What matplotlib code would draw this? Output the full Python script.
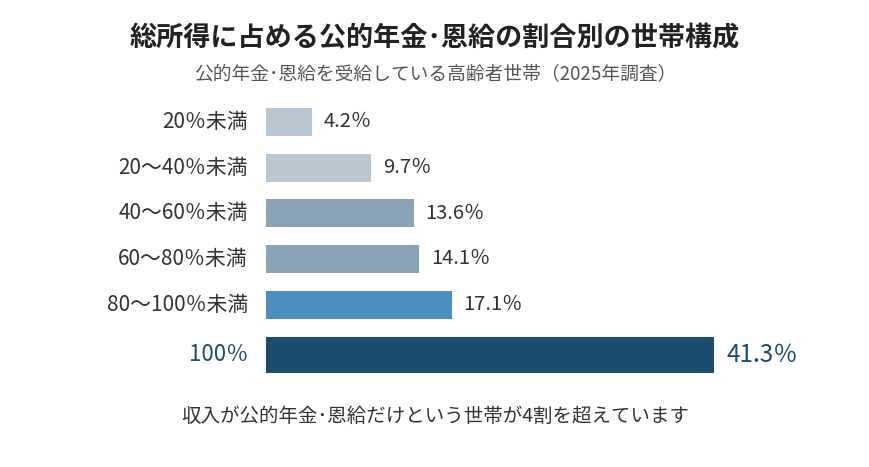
import numpy as np
import matplotlib
matplotlib.use('Agg')
import matplotlib.pyplot as plt

plt.rcParams['font.family'] = ['Noto Sans CJK JP', 'DejaVu Sans']

categories = ['20％未満', '20～40％未満', '40～60％未満', '60～80％未満', '80～100％未満', '100％']
values = [4.2, 9.7, 13.6, 14.1, 17.1, 41.3]
colors = ['#b7c6d1', '#b7c6d1', '#8aa3b6', '#8aa3b6', '#4b8fc1', '#1b4e6e']

title = '総所得に占める公的年金･恩給の割合別の世帯構成'
subtitle = '公的年金･恩給を受給している高齢者世帯（2025年調査）'
footer = '収入が公的年金･恩給だけという世帯が4割を超えています'

fig = plt.figure(figsize=(8.7, 4.67), dpi=100)
ax = fig.add_axes([266 / 870, 1 - 380 / 467, 597 / 870, 280 / 467])

n = len(values)
pos = np.arange(n, dtype=float)
pos[-1] += 0.1  # the highlighted row sits a bit lower
heights = [0.61] * (n - 1) + [0.79]

ax.barh(pos, values, height=heights, color=colors)
ax.set_xlim(0, 55)
ax.set_ylim(5.65, -0.48)
ax.axis('off')

for i, (cat, v) in enumerate(zip(categories, values)):
    last = i == n - 1
    tc = '#1b4e6e' if last else '#333333'
    ax.annotate(cat, (0, pos[i]), xytext=(-18, 0), textcoords='offset pixels',
                ha='right', va='center', fontsize=16 if last else 15, color=tc)
    ax.annotate(f'{v}％', (v, pos[i]), xytext=(12, 0), textcoords='offset pixels',
                ha='left', va='center', fontsize=17.5 if last else 14.5, color=tc)

fig.text(0.5, 1 - 38 / 467, title, ha='center', va='center', fontsize=19.5,
         fontweight='bold', color='#222222')
fig.text(0.5, 1 - 74 / 467, subtitle, ha='center', va='center', fontsize=13.5,
         color='#555555')
fig.text(0.5, 1 - 416 / 467, footer, ha='center', va='center', fontsize=14,
         color='#333333')

fig.savefig('out.png', dpi=100, facecolor='white')
